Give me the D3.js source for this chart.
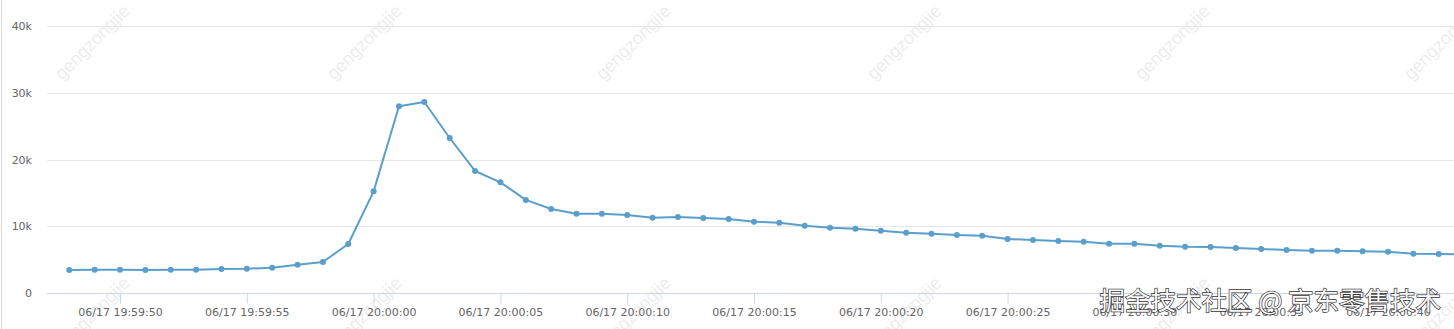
<!DOCTYPE html>
<html>
<head>
<meta charset="utf-8">
<script src="https://cdn.jsdelivr.net/npm/d3@7"></script>
<style>
  html, body { margin: 0; padding: 0; background: #fff; }
  svg { display: block; }
</style>
</head>
<body>
<svg id="chart" width="1454" height="329"></svg>
<script>
// data, one point per second
const startTime = new Date(2019, 5, 17, 19, 59, 48);
const qpsValues = [
  3450, 3490, 3490, 3450, 3490, 3490, 3600, 3640, 3790, 4240,
  4640, 7340, 15230, 27970, 28610, 23220, 18280, 16580, 13950, 12580,
  11880, 11880, 11690, 11290, 11390, 11240, 11090, 10690, 10540, 10090,
  9790, 9640, 9340, 9040, 8890, 8700, 8560, 8090, 7940, 7790,
  7690, 7390, 7390, 7090, 6940, 6890, 6740, 6590, 6440, 6340,
  6340, 6240, 6190, 5890, 5840, 5800
];
const yTicks = [0, 10000, 20000, 30000, 40000];
const watermarkText = "gengzongjie";
const siteMark = "掘金技术社区 @ 京东零售技术";

let data = qpsValues.map((v, i) => ({ t: d3.timeSecond.offset(startTime, i), v: v }));

const svg = d3.select("#chart");
const W = 1454, H = 329;
const plotLeft = 47, plotTop = 26, plotBottom = 293;

let x = d3.scaleTime()
  .domain([startTime, d3.timeSecond.offset(startTime, 52)])
  .range([69.3, 1388]);
let y = d3.scaleLinear().domain([0, 40000]).range([plotBottom, plotTop]);

// left border
svg.append("line")
  .attr("x1", 1.5).attr("x2", 1.5).attr("y1", 0).attr("y2", H)
  .attr("stroke", "#d8d8d8").attr("stroke-width", 1);

// watermarks
let wmX = [92, 364, 633, 904, 1172, 1441];
let wmY = [42, 314];
let gWm = svg.append("g").attr("class", "watermarks");
wmY.forEach(cy => wmX.forEach(cx => {
  gWm.append("text")
    .attr("transform", `translate(${cx},${cy}) rotate(-45)`)
    .attr("text-anchor", "middle")
    .attr("dy", "0.35em")
    .attr("font-family", "Liberation Sans, Arial, sans-serif")
    .attr("font-size", 18)
    .attr("fill", "#ededed")
    .text(watermarkText);
}));

// grid
let gGrid = svg.append("g").attr("class", "grid");
gGrid.selectAll("line")
  .data(yTicks.filter(d => d > 0))
  .enter().append("line")
    .attr("x1", plotLeft).attr("x2", W)
    .attr("y1", d => Math.round(y(d)) + 0.5).attr("y2", d => Math.round(y(d)) + 0.5)
    .attr("stroke", "#e6e6e6");

// y labels
svg.append("g").selectAll("text")
  .data(yTicks)
  .enter().append("text")
    .attr("x", 32)
    .attr("y", d => y(d) + 4)
    .attr("text-anchor", "end")
    .attr("font-family", "DejaVu Sans, sans-serif")
    .attr("font-size", 11)
    .attr("fill", "#666")
    .text(d => d === 0 ? "0" : (d / 1000) + "k");

// x axis
let xAxis = d3.axisBottom(x)
  .ticks(d3.timeSecond.every(5))
  .tickFormat(d3.timeFormat("%m/%d %H:%M:%S"))
  .tickSizeInner(10)
  .tickSizeOuter(0)
  .tickPadding(5);
let gX = svg.append("g")
  .attr("transform", `translate(0,${plotBottom + 0.5})`)
  .call(xAxis);
gX.select(".domain").remove();
gX.insert("line", ":first-child")
  .attr("x1", plotLeft).attr("x2", W)
  .attr("stroke", "#ccd6eb");
gX.selectAll(".tick line").attr("stroke", "#ccd6eb");
gX.selectAll(".tick text")
  .attr("font-family", "DejaVu Sans, sans-serif")
  .attr("font-size", 11)
  .attr("fill", "#666");

// series
const lineColor = "#5a9fcb";
svg.append("path")
  .datum(data)
  .attr("fill", "none")
  .attr("stroke", lineColor)
  .attr("stroke-width", 2)
  .attr("stroke-linejoin", "round")
  .attr("d", d3.line().x(d => x(d.t)).y(d => y(d.v)));

svg.append("g").selectAll("circle")
  .data(data)
  .enter().append("circle")
    .attr("cx", d => x(d.t))
    .attr("cy", d => y(d.v))
    .attr("r", 3)
    .attr("fill", lineColor);

// site watermark
svg.append("text")
  .attr("x", 1441)
  .attr("y", 310)
  .attr("text-anchor", "end")
  .attr("font-family", "Noto Sans CJK SC, sans-serif")
  .attr("font-size", 25.5)
  .attr("fill", "#fafafa")
  .attr("stroke", "#333")
  .attr("stroke-width", 1.4)
  .attr("paint-order", "stroke")
  .text(siteMark);
</script>
</body>
</html>
